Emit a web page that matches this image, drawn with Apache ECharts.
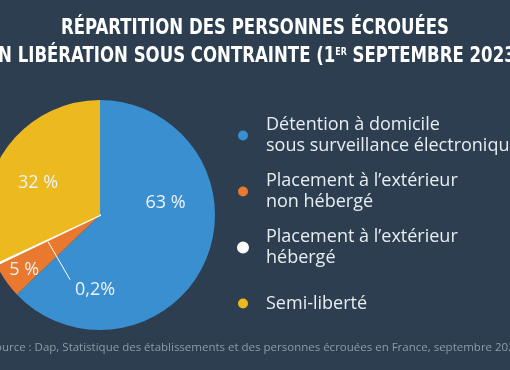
<!DOCTYPE html>
<html><head><meta charset="utf-8">
<script src="https://cdn.jsdelivr.net/npm/echarts@6/dist/echarts.min.js"></script>
<style>html,body{margin:0;padding:0;background:#2c3e50}#c{width:510px;height:370px}</style>
</head><body><div id="c"></div>
<script>
const categories = ['Détention à domicile\nsous surveillance électronique', 'Placement à l’extérieur\nnon hébergé', 'Placement à l’extérieur\nhébergé', 'Semi-liberté'];
const values = [63, 5, 0.2, 32];
const valueLabels = ['63 %', '5 %', '0,2%', '32 %'];
const colors = ['#3a8fd0', '#e8792f', '#ffffff', '#ecb91f'];
const titleLine1 = 'RÉPARTITION DES PERSONNES ÉCROUÉES';
const titleLine2 = ['EN LIBÉRATION SOUS CONTRAINTE (1', 'ER', ' SEPTEMBRE 2023)'];
const sourceText = 'Source : Dap, Statistique des établissements et des personnes écrouées en France, septembre 2023';

const LH = 21;
const center = [100, 215], R = 115;
const labelOffsets = [[10, -36], [-26, 20], [0, 0], [-11, 0]];

// leader line for the small slice, computed from the pie geometry
const total = values.reduce((a, b) => a + b, 0);
const before = values[0] + values[1];
const midAngleDeg = 90 - (before + values[2] / 2) / total * 360; // clockwise from top
const ang = midAngleDeg * Math.PI / 180;
const leadStart = [center[0] + 0.5 * R * Math.cos(ang), center[1] - 0.5 * R * Math.sin(ang) + 2];
const leadEnd = [leadStart[0] + 22, leadStart[1] + 38];
const smallLabelPos = [leadEnd[0] + 25, leadEnd[1] + 10];

const TF = "'DejaVu Sans Condensed','Liberation Sans Narrow',sans-serif";
const chart = echarts.init(document.getElementById('c'), null, {renderer: 'canvas'});
const data = categories.map((c, i) => ({
  name: c, value: values[i],
  itemStyle: i === 2 ? {color: colors[i], borderColor: '#ffffff', borderWidth: 2} : {color: colors[i]},
  label: i === 2 ? {show: true, position: 'inside', offset: [0, 0]} : {show: true, position: 'inside', offset: labelOffsets[i]}
}));

chart.setOption({
  backgroundColor: '#2c3e50',
  animation: false,
  graphic: [
    {type: 'text', x: 255, y: 29, scaleX: 0.877,
     style: {text: titleLine1, fill: '#ffffff', font: 'bold 21px ' + TF, align: 'center', verticalAlign: 'middle', textAlign: 'center', textVerticalAlign: 'middle'}},
    {type: 'text', x: 255, y: 57, scaleX: 0.877,
     style: {text: '{t|' + titleLine2[0] + '}{s|' + titleLine2[1] + '}{t|' + titleLine2[2] + '}',
       align: 'center', verticalAlign: 'middle', textAlign: 'center', textVerticalAlign: 'middle',
       rich: {
         t: {fontFamily: TF, fontWeight: 'bold', fontSize: 21, fill: '#ffffff', color: '#ffffff', lineHeight: 26},
         s: {fontFamily: TF, fontWeight: 'bold', fontSize: 10, fill: '#ffffff', color: '#ffffff', lineHeight: 26, verticalAlign: 'top', padding: [3, 0, 0, 0]}
       }}},
    {type: 'text', x: 255, y: 348,
     style: {text: sourceText, fill: '#8f9ba7', font: '11.5px "Open Sans", sans-serif', align: 'center', verticalAlign: 'middle', textAlign: 'center', textVerticalAlign: 'middle'}},
    {type: 'line', z: 100, shape: {x1: leadStart[0], y1: leadStart[1], x2: leadEnd[0], y2: leadEnd[1]},
     style: {stroke: '#ffffff', lineWidth: 1}}
  ],
  legend: {
    orient: 'vertical', left: 237, top: 104, padding: 0,
    itemWidth: 10, itemHeight: 10, itemGap: -7, icon: 'circle',
    data: categories.map((c, i) => ({
      name: c,
      textStyle: {padding: i === 3 ? [LH, 0, LH, 13] : [LH, 0, 0, 13]}
    })),
    textStyle: {color: '#e8edf1', fontSize: 18, lineHeight: LH, fontFamily: "'Open Sans', sans-serif"},
    selectedMode: false
  },
  series: [{
    type: 'pie', center: center, radius: R, startAngle: 90, clockwise: true,
    avoidLabelOverlap: false, minAngle: 0,
    data: data,
    label: {
      formatter: p => valueLabels[p.dataIndex],
      color: '#eef3f7', fontSize: 18, fontFamily: "'Open Sans', sans-serif"
    },
    labelLine: {show: false},
    labelLayout: function (p) {
      if (p.dataIndex !== 2) return {};
      return {x: smallLabelPos[0], y: smallLabelPos[1], align: 'center', verticalAlign: 'middle'};
    },
    emphasis: {disabled: true}
  }]
});
</script></body></html>
